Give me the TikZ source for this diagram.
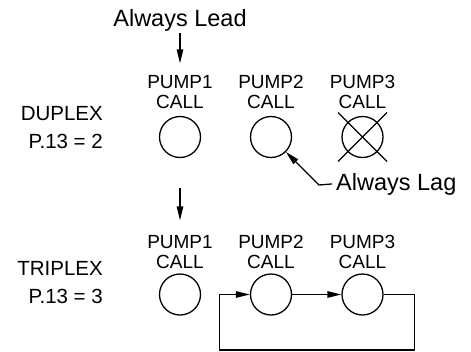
\documentclass[tikz,border=0pt]{standalone}
\usepackage{fontspec}
\setmainfont{Liberation Sans}
\usetikzlibrary{arrows.meta}
\tikzset{
    pump/.style={draw, circle, line width=1.3pt, minimum size=41pt, inner sep=0pt},
    calltxt/.style={font=\fontsize{19}{20}\selectfont, align=center, anchor=base},
    modetxt/.style={font=\fontsize{20.5}{27.5}\selectfont, align=right, anchor=base east, inner sep=0pt},
    notetxt/.style={font=\fontsize{23.5}{26}\selectfont, inner sep=1pt},
    conn/.style={line width=1.3pt, -{Triangle[length=14pt,width=6.5pt]}},
}
\begin{document}
\begin{tikzpicture}[x=1pt,y=-1pt]
    \useasboundingbox (0,0) rectangle (471,351);
    \foreach \n/\x in {1/180,2/271,3/362.5} {
        \node[pump] (d\n) at (\x,137) {};
        \node[pump] (t\n) at (\x,294.5) {};
        \node[calltxt] (dl\n) at (\x,108) {PUMP\n\\CALL};
        \node[calltxt] (tl\n) at (\x,268) {PUMP\n\\CALL};
    }
    \node[modetxt] (duplex) at (103,148) {DUPLEX\\P.13 = 2};
    \node[modetxt] (triplex) at (103,303) {TRIPLEX\\P.13 = 3};
    % pump 3 not used in duplex
    \draw[line width=1.3pt] ([shift={(-24.5,-24.5)}]d3.center) -- ([shift={(24.5,24.5)}]d3.center);
    \draw[line width=1.3pt] ([shift={(24.5,-24.5)}]d3.center) -- ([shift={(-24.5,24.5)}]d3.center);
    % lead / lag notes
    \node[notetxt, anchor=base] (lead) at (180,26.7) {Always Lead};
    \draw[conn, shorten >=8pt] (lead) -- (dl1);
    \node[notetxt, anchor=base west, inner sep=0pt] (lag) at (336,190) {Always Lag};
    \coordinate (lagbend) at (319,185);
    \draw[conn] ([xshift=-4pt]lag.west) -- (lagbend) -- (d2);
    % triplex rotation
    \coordinate (tin) at (180,188);
    \draw[conn, shorten >=11pt] (tin) -- (tl1);
    \draw[conn] (t2) -- (t3);
    \draw[conn] (t3.east) -| ++(30.5,55.5) -| ([xshift=-30.5pt]t2.west) -- (t2.west);
\end{tikzpicture}
\end{document}
